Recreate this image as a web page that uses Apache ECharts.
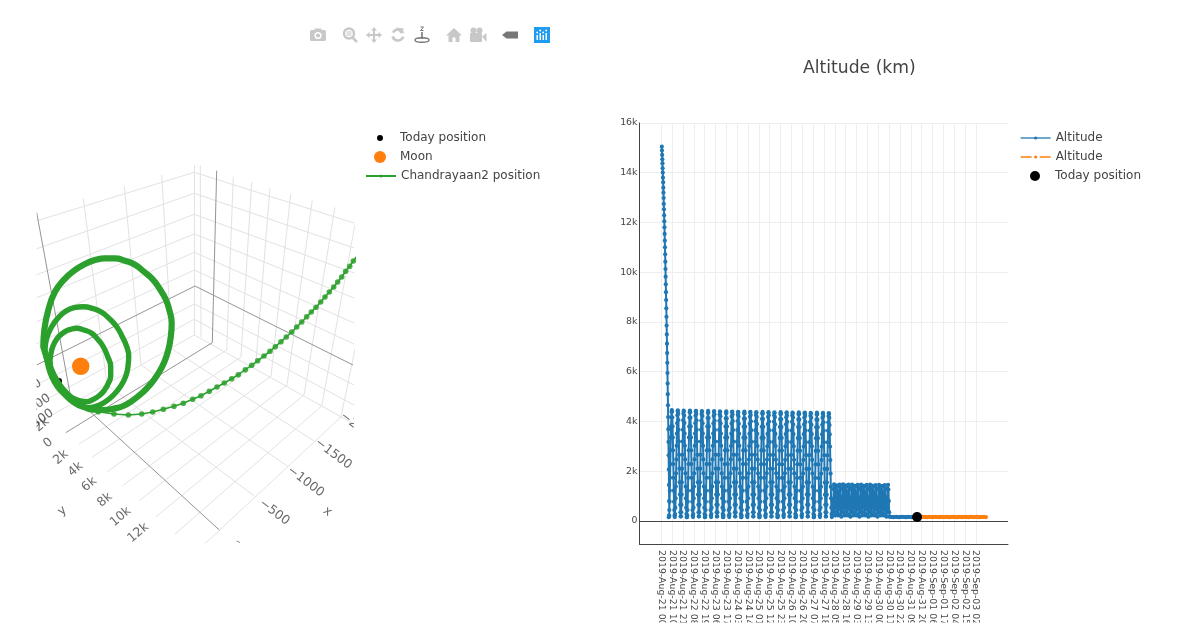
<!DOCTYPE html>
<html><head><meta charset="utf-8">
<script src="https://cdn.jsdelivr.net/npm/echarts@6/dist/echarts.min.js"></script>
<style>html,body{margin:0;padding:0;background:#fff}#c{width:1177px;height:639px}</style>
</head><body><div id="c"></div>
<script>
// ---------- right panel: altitude over time ----------
const tickLabels = ['2019-Aug-21 00','2019-Aug-21 10','2019-Aug-21 21','2019-Aug-22 08','2019-Aug-22 19','2019-Aug-23 06','2019-Aug-23 17','2019-Aug-24 03','2019-Aug-24 14','2019-Aug-25 01','2019-Aug-25 12','2019-Aug-25 23','2019-Aug-26 10','2019-Aug-26 20','2019-Aug-27 07','2019-Aug-27 18','2019-Aug-28 05','2019-Aug-28 16','2019-Aug-29 03','2019-Aug-29 13','2019-Aug-30 00','2019-Aug-30 11','2019-Aug-30 22','2019-Aug-31 09','2019-Aug-31 20','2019-Sep-01 06','2019-Sep-01 17','2019-Sep-02 04','2019-Sep-02 15','2019-Sep-03 02'];
const yTicks = [0,2000,4000,6000,8000,10000,12000,14000,16000];
const descentAltitudes = [15050,14890,14715,14540,14380,14180,14005,13800,13615,13400,13200,12985,12745,12530,12290,12050,11805,11540,11270,11000,10720,10425,10130,9820,9515,9200,8880,8550,8210,7860,7500,7130,6750,6360,5950,5530,5100,4650,4180,3690,3180,2640,2070,1450,800,200];
const highOrbitAltitudes = [
150,223,437,777,1220,1736,2290,2844,3360,3803,4170,4390,4460,4390,4170,3803,3360,2844,2290,1736,1220,777,437,223,
158,279,537,914,1385,1918,2476,3022,3518,3929,4250,4420,4445,4325,4060,3666,3195,2662,2104,1558,1062,651,351,182,
182,351,651,1062,1558,2104,2662,3195,3666,4055,4315,4435,4410,4240,3935,3518,3022,2476,1918,1385,914,537,279,158,
150,223,437,777,1220,1736,2290,2844,3360,3803,4155,4370,4440,4370,4155,3803,3360,2844,2290,1736,1220,777,437,223,
158,279,537,914,1385,1918,2476,3022,3518,3925,4235,4405,4430,4310,4045,3666,3195,2662,2104,1558,1062,651,351,182,
182,351,651,1062,1558,2104,2662,3195,3666,4040,4300,4420,4395,4225,3925,3518,3022,2476,1918,1385,914,537,279,158,
150,223,437,777,1220,1736,2290,2844,3360,3800,4140,4355,4425,4355,4140,3800,3360,2844,2290,1736,1220,777,437,223,
158,279,537,914,1385,1918,2476,3022,3518,3920,4220,4390,4415,4295,4030,3660,3195,2662,2104,1558,1062,651,351,182,
182,351,651,1062,1558,2104,2662,3195,3660,4030,4285,4405,4380,4210,3915,3518,3022,2476,1918,1385,914,537,279,158,
150,223,437,777,1220,1736,2290,2840,3355,3795,4125,4340,4410,4340,4125,3795,3355,2840,2290,1736,1220,777,437,223,
158,279,537,914,1385,1918,2476,3015,3510,3915,4205,4375,4400,4280,4015,3655,3190,2660,2104,1558,1062,651,351,182,
182,351,651,1062,1558,2104,2660,3190,3655,4020,4270,4390,4365,4195,3905,3510,3020,2476,1918,1385,914,537,279,158,
150,223,437,777,1220,1736,2290,2838,3350,3790,4115,4325,4400,4325,4115,3790,3350,2838,2290,1736,1220,777,437,223,
158,279,537,914,1385,1918,2470,3010,3505,3905,4190,4360,4390,4265,4005,3650,3185,2658,2104,1558,1062,651,351,182,
182,351,651,1062,1558,2104,2658,3185,3650,4005,4260,4375,4350,4185,3895,3505,3015,2470,1918,1385,914,537,279,158,
150,223,437,777,1220,1736,2285,2835,3345,3785,4105,4315,4385,4315,4105,3785,3345,2835,2285,1736,1220,777,437,223,
158,279,537,914,1385,1918,2465,3005,3500,3895,4180,4350,4375,4255,3995,3645,3180,2655,2100,1558,1062,651,351,182,
182,351,651,1062,1558,2100,2655,3180,3645,3995,4250,4365,4340,4175,3885,3500,3010,2465,1915,1385,914,537,279,158,
150,223,437,777,1220,1733,2282,2830,3340,3780,4095,4305,4375,4305,4095,3780,3340,2830,2282,1733,1220,777,437,223,
158,279,537,914,1383,1915,2460,3000,3495,3885,4170,4340,4365,4245,3985,3640,3175,2650,2098,1555,1062,651,351,182,
182,351,651,1062,1555,2098,2650,3175,3640,3985,4240,4355,4330,4165,3875,3495,3005,2460,1912,1383,914,537,279,158,
150,223,437,777,1218,1730,2278,2825,3335,3775,4085,4295,4365,4295,4085,3775,3335,2825,2278,1730,1218,777,437,223,
158,279,537,912,1380,1912,2455,2995,3490,3875,4160,4330,4355,4235,3975,3635,3170,2645,2095,1552,1060,651,351,182,
182,351,650,1060,1552,2095,2645,3170,3635,3975,4230,4345,4320,4155,3865,3490,3000,2455,1908,1380,912,537,279,158,
150,223,437,775,1215,1727,2274,2820,3330,3770,4075,4285,4355,4285,4075,3770,3330,2820,2274,1727,1215,775,437,223,
158,279,536,910,1378,1908,2450,2990,3485,3865,4150,4320,4345,4225,3965,3630,3165,2640,2092,1548,1058,650,351,182,
182,351,649,1058,1548,2092,2640,3165,3630,3965,4220,4335,4310,4145,3855,3485,2995,2450,1905,1378,910,536,279,158];
const lowOrbitAltitudes = [
200,360,820,1280,1470,1280,820,360,
220,570,1070,1420,1420,1070,570,220,
280,700,1190,1460,1350,950,450,190,
170,360,820,1280,1470,1280,820,360,
220,570,1070,1420,1420,1070,570,220,
280,700,1190,1460,1350,950,450,190,
170,360,815,1275,1465,1275,815,360,
220,570,1065,1415,1415,1065,570,220,
280,695,1185,1455,1345,945,450,190,
170,360,810,1270,1460,1270,810,360,
220,565,1060,1410,1410,1060,565,220,
280,695,1180,1450,1340,945,450,190,
170,355,810,1270,1460,1270,810,355,
220,565,1060,1410,1410,1060,565,220,
280,690,1175,1445,1335,940,445,190,
170,355,805,1265,1455,1265,805,355,
220,560,1055,1405,1405,1055,560,220,
280,690,1170,1440,1330,940,445,190,
170,355,805,1265,1455,1265,805,355,170];
const parkingAltitudes = [170,160,155,160,165,158,152,160,166,160,155,158,164,160,154,160,165,161];
const orangeAltitudes = [161,158,155,160,165,160,155,158,164,160,154,160,165,160,156,158,163,160,155,160,165,159,154,160,164,160,156,158,165,160,155,160,163,160,154,158,165,160,156,160,164,159,155,160,165,160,157];
const todayAltitude = [[23.58,161]];

// ---------- left panel: 3-D scene as seen on screen (scene units) ----------
const floorAndWallGrid = [
[[194.3,172.3],[36,221]],[[194.3,193.3],[36,249]],[[194.3,214.3],[36,275]],[[194.3,234],[36,298]],[[194.3,252.3],[36,322]],[[194.3,270],[36,344]],[[194.3,304],[36,385]],[[194.3,319.3],[36,405]],[[194.3,335],[36,424]],
[[194.3,172.3],[354,223]],[[194.3,193.3],[354,248]],[[194.3,214.3],[354,273]],[[194.3,234],[354,298]],[[194.3,252.3],[354,323]],[[194.3,270],[354,344]],[[194.3,304],[354,385]],[[194.3,319.3],[354,405]],[[194.3,335],[354,424]],
[[83.3,198.3],[107,385]],[[124.3,186],[141,365]],[[161.7,175],[172,349]],[[194.3,165],[194.3,335]],
[[200.3,165.7],[201,337]],[[233.3,176.7],[226.7,350]],[[251.7,182.3],[241,357]],[[270,187.7],[255.7,365]],[[290.7,194.3],[271,376]],[[312.3,200.7],[287,385]],[[335,207.3],[304,395]],[[356.7,215],[321.7,406]],[[381,223],[341,417]],
[[226.7,350],[79,444]],[[241,357],[92.3,457]],[[255.7,365],[107.3,471.7]],[[271,376],[122.7,485.7]],[[287,385],[139,500.7]],[[304,395],[156,516.7]],[[321.7,406],[175,534]],[[341,417],[195,553]],
[[107,385],[254.3,496]],[[141,365],[288.3,466.7]],[[172,349],[315,441.7]]];
const axisPlaneLines = [
[[195,286],[353,365]],[[195,286],[36.7,365]],[[212.3,342.7],[65.7,432.7]],[[216.7,170.7],[212.3,342.7]],[[36.7,212.7],[70,393.3]],[[70,393.3],[219.3,530]],[[236.5,541],[240,542.5]]];
const orbitLarge = [[43.3,346.7],[44.3,330],[48.3,310],[55,291.7],[64.3,279.3],[75,270],[85,264],[95,260],[105,258.3],[115,258.3],[125,260.7],[135,264.7],[144,271.7],[152.7,279.3],[159.3,288.3],[165.7,299.3],[169.3,310],[171.7,323.3],[170.7,337.3],[168.3,350],[164,362.7],[158.3,373.3],[150.7,384],[141.7,393.3],[132.3,400.7],[123.3,406],[113.3,408.7],[103.3,410],[93.3,409.7],[85,407.3],[75,401.7],[65,391.7],[57.3,381.7],[50,366.7],[43.3,346.7]];
const orbitMiddle = [[45,350],[46.7,338.3],[51.7,326.7],[58.3,317.7],[65,311.7],[74,307.7],[83.3,306.7],[93.3,308.7],[101.7,312.3],[110,319.3],[116.7,326.7],[122.3,336.7],[126.7,346.7],[128.7,356],[128.3,363.3],[126.7,373.3],[123.3,381.7],[117.3,390.7],[110,398.3],[102.7,403.3],[95,406.7],[88.3,407.7],[81.7,406.7],[73.3,402.3],[65,395],[57.3,386.7],[51.7,376.7],[47.7,364],[45,350]];
const orbitSmall = [[50,360],[51.7,350],[55,341.7],[59.3,336],[65,331.7],[70.7,329.3],[76.7,328.3],[84,330],[91.7,333.3],[98.3,340],[103.3,346.7],[107.7,356.7],[110.7,366.7],[110.7,376],[108.3,383.3],[105,389.3],[100,395],[93.3,399.3],[86.7,401.7],[80,401],[73.3,398.3],[66,392.7],[60,386.7],[55,380],[51.7,373.3],[50,360]];
const approachPath = [[98.3,411.7],[114,414],[128.3,415],[141.7,414],[152.7,412],[163.3,409.3],[174,406.3],[183.3,403.3],[192.7,399.3],[201,395.7],[209.3,391.3],[217,387],[224.3,383],[231.7,378.7],[238.3,374.7],[245.3,369.7],[251.7,365.3],[257.7,360.7],[264,356],[270,351.3],[275.3,346.7],[281,341.7],[286.3,337],[291.7,332],[296.7,327],[301.7,322],[306.7,316.7],[311.3,312],[316,307.3],[320.7,302],[325,297],[329.3,292],[333.7,287],[337.7,282],[341.7,277],[345.7,271.3],[349.7,266.3],[353.3,261],[357,256]];
const moonPoint = [[80.7,366.3]];
const todayPoint = [[59,381]];
const sceneLabels = [
['100',30.6,388.6,35],['200',39.6,403.6,35],['300',42.6,418.6,35],['−2k',38,428,40],
['0',48.3,443,40],['2k',61,457.3,40],['4k',75.7,469.3,40],['6k',89.3,484.3,40],['8k',105,500,40],['10k',120.7,516.7,40],['12k',138.3,532.7,40],['y',62.3,511,40],
['−2000',358.5,427.5,-37],['−1500',333.3,454,-37],['−1000',305.7,481.7,-37],['−500',274.3,512.3,-37],['x',327.3,511.7,-37]];

const xStart = {descent:0.055, high:0.70, low:15.79, parking:21.12, orange:23.58};
const xStep  = {descent:0.0154, high:0.02322, low:0.03456, parking:0.138, orange:0.138};
const along = (vals,k) => vals.map((v,i)=>[xStart[k]+i*xStep[k],v]);
const blueData = [...along(descentAltitudes,'descent'),...along(highOrbitAltitudes,'high'),...along(lowOrbitAltitudes,'low'),...along(parkingAltitudes,'parking')];
const orangeData = along(orangeAltitudes,'orange');

const FONT = 'DejaVu Sans', INK = '#444';
const BLUE='#1f77b4', ORANGE='#ff7f0e', GREEN='#2ca02c';
const GREY='#c8c8c8';
const legendItem = (name,left,top,h,ls) => Object.assign({data:[name],orient:'vertical',left,top,padding:0,itemWidth:30,itemHeight:h,selectedMode:false,textStyle:{fontFamily:FONT,fontSize:12,color:INK}},ls?{lineStyle:ls}:{});
const line3 = (name,data,w) => ({name,type:'line',xAxisIndex:0,yAxisIndex:0,data,smooth:0.5,symbol:'none',silent:true,z:4,lineStyle:{color:GREEN,width:w,cap:'round',join:'round'},itemStyle:{color:GREEN}});

const icons = [
 {type:'rect',shape:{x:310,y:30,width:16,height:11,r:1.5},style:{fill:GREY}},{type:'rect',shape:{x:314.5,y:28.5,width:7,height:3},style:{fill:GREY}},{type:'circle',shape:{cx:318,cy:35.5,r:3.6},style:{fill:'#fff'}},{type:'circle',shape:{cx:318,cy:35.5,r:2.1},style:{fill:GREY}},
 {type:'circle',shape:{cx:349,cy:33.5,r:5},style:{fill:'none',stroke:GREY,lineWidth:2.5}},{type:'rect',shape:{x:346.5,y:31,width:5,height:5},style:{fill:'#e2e2e2'}},{type:'line',shape:{x1:352.5,y1:37.5,x2:357,y2:42},style:{stroke:GREY,lineWidth:2.5}},
 {type:'line',shape:{x1:367,y1:35,x2:381,y2:35},style:{stroke:GREY,lineWidth:2}},{type:'line',shape:{x1:374,y1:28,x2:374,y2:42},style:{stroke:GREY,lineWidth:2}},
 {type:'polygon',shape:{points:[[374,27],[371,30.5],[377,30.5]]},style:{fill:GREY}},{type:'polygon',shape:{points:[[374,43],[371,39.5],[377,39.5]]},style:{fill:GREY}},{type:'polygon',shape:{points:[[366,35],[369.5,32],[369.5,38]]},style:{fill:GREY}},{type:'polygon',shape:{points:[[382,35],[378.5,32],[378.5,38]]},style:{fill:GREY}},
 {type:'arc',shape:{cx:398,cy:35,r:5.5,startAngle:0.3,endAngle:2.9},style:{fill:'none',stroke:GREY,lineWidth:2.6}},{type:'arc',shape:{cx:398,cy:35,r:5.5,startAngle:3.6,endAngle:5.9},style:{fill:'none',stroke:GREY,lineWidth:2.6}},{type:'polygon',shape:{points:[[396,27.5],[404,28.5],[401,34]]},style:{fill:GREY}},
 {type:'polyline',shape:{points:[[420.5,27],[423.5,27],[420.5,30.5],[423.5,30.5]]},style:{fill:'none',stroke:'#777',lineWidth:1}},{type:'line',shape:{x1:422,y1:32,x2:422,y2:39},style:{stroke:'#777',lineWidth:1.6}},{type:'ellipse',shape:{cx:422,cy:40,rx:7,ry:2.2},style:{fill:'none',stroke:'#777',lineWidth:1.4}},
 {type:'polygon',shape:{points:[[446,35.5],[454,28],[462,35.5]]},style:{fill:GREY}},{type:'rect',shape:{x:448.5,y:35,width:11,height:7},style:{fill:GREY}},{type:'rect',shape:{x:452.5,y:37.5,width:3,height:4.5},style:{fill:'#fff'}},
 {type:'circle',shape:{cx:473.5,cy:30.5,r:3},style:{fill:GREY}},{type:'circle',shape:{cx:479.5,cy:30.5,r:3},style:{fill:GREY}},{type:'rect',shape:{x:470,y:33,width:12,height:9,r:1},style:{fill:GREY}},{type:'polygon',shape:{points:[[482,36.5],[486.5,33],[486.5,42]]},style:{fill:GREY}},
 {type:'polygon',shape:{points:[[502,35],[506.5,31.5],[518,31.5],[518,38.5],[506.5,38.5]]},style:{fill:'#777'}},
 {type:'rect',shape:{x:534,y:27,width:16,height:16},style:{fill:'#1f9cf0'}},
 {type:'rect',shape:{x:536.5,y:35,width:1.5,height:5},style:{fill:'#fff'}},{type:'rect',shape:{x:539.5,y:33,width:1.5,height:7},style:{fill:'#fff'}},{type:'rect',shape:{x:542.5,y:35,width:1.5,height:5},style:{fill:'#fff'}},{type:'rect',shape:{x:545.5,y:33,width:1.5,height:7},style:{fill:'#fff'}},
 {type:'circle',shape:{cx:537.2,cy:32.5,r:.9},style:{fill:'#fff'}},{type:'circle',shape:{cx:540.2,cy:30.5,r:.9},style:{fill:'#fff'}},{type:'circle',shape:{cx:543.2,cy:32.5,r:.9},style:{fill:'#fff'}},{type:'circle',shape:{cx:546.2,cy:30.5,r:.9},style:{fill:'#fff'}}
];
const masks = [
 {type:'rect',shape:{x:0,y:150,width:36.5,height:400},style:{fill:'#fff'}},
 {type:'rect',shape:{x:354,y:400,width:30,height:50},style:{fill:'#fff'}},
 {type:'rect',shape:{x:640,y:622.5,width:370,height:16},style:{fill:'#fff'}}
];

const chart = echarts.init(document.getElementById('c'),null,{renderer:'canvas'});
chart.setOption({
 animation:false,
 backgroundColor:'#fff',
 textStyle:{fontFamily:FONT},
 title:{text:'Altitude (km)',left:803,top:60,padding:0,textStyle:{fontFamily:FONT,fontSize:17.2,fontWeight:'normal',color:INK}},
 legend:[
  legendItem('Today position',377,132,6),legendItem('Moon',374,151,12),legendItem('Chandrayaan2 position',365,170,4,{color:GREEN,width:2,type:'solid'}),
  legendItem('Altitude',1020,132,4,{color:BLUE,width:1.3,type:'solid'}),legendItem('Altitude ',1020,151,4,{color:ORANGE,width:1.3,type:[11,8]}),legendItem('Today position ',1030,170,10)],
 grid:[
  {left:37,top:160,width:317,height:383,show:false},
  {left:639.5,top:123,width:368.5,height:421,show:false}],
 xAxis:[
  {type:'value',gridIndex:0,min:37,max:354,show:false},
  {type:'value',gridIndex:1,min:-2,max:31.96,
   axisLine:{show:true,onZero:false,lineStyle:{color:INK,width:1}},
   axisTick:{show:false,customValues:tickLabels.map((_,i)=>i)},
   splitLine:{show:true,lineStyle:{color:'#eee',width:1}},
   axisLabel:{customValues:tickLabels.map((_,i)=>i),formatter:v=>tickLabels[v],rotate:-90,margin:6,fontFamily:FONT,fontSize:9.4,color:INK}}],
 yAxis:[
  {type:'value',gridIndex:0,min:160,max:543,inverse:true,show:false},
  {type:'value',gridIndex:1,min:-925,max:16000,
   axisLine:{show:true,onZero:false,lineStyle:{color:INK,width:1}},
   axisTick:{show:false,customValues:yTicks},
   splitLine:{show:true,lineStyle:{color:'#eee',width:1}},
   axisLabel:{customValues:yTicks,formatter:v=>v===0?'0':(v/1000)+'k',margin:2,fontFamily:FONT,fontSize:9.4,color:INK}}],
 series:[
  {type:'lines',coordinateSystem:'cartesian2d',xAxisIndex:0,yAxisIndex:0,silent:true,z:1,lineStyle:{color:'#e2e2e2',width:1,opacity:1},data:floorAndWallGrid.map(c=>({coords:c}))},
  {type:'lines',coordinateSystem:'cartesian2d',xAxisIndex:0,yAxisIndex:0,silent:true,z:2,lineStyle:{color:'#949494',width:1,opacity:1},data:axisPlaneLines.map(c=>({coords:c}))},
  {name:'Today position',type:'scatter',xAxisIndex:0,yAxisIndex:0,data:todayPoint,symbolSize:6,silent:true,z:3,itemStyle:{color:'#000',opacity:1}},
  line3('Orbit large',orbitLarge,6.2),line3('Orbit middle',orbitMiddle,5.4),line3('Orbit small',orbitSmall,5.4),
  {name:'Chandrayaan2 position',type:'line',xAxisIndex:0,yAxisIndex:0,data:approachPath,symbol:'circle',symbolSize:5.6,silent:true,z:3,lineStyle:{color:GREEN,width:1.6},itemStyle:{color:GREEN,opacity:.85}},
  {name:'Moon',type:'scatter',xAxisIndex:0,yAxisIndex:0,data:moonPoint,symbolSize:17.5,silent:true,z:5,itemStyle:{color:ORANGE,opacity:1}},
  {type:'scatter',xAxisIndex:0,yAxisIndex:0,clip:false,silent:true,symbolSize:0,z:6,
   data:sceneLabels.map(l=>({value:[l[1],l[2]],label:{show:true,position:'inside',formatter:l[0],rotate:l[3],fontFamily:FONT,fontSize:12.5,color:INK}}))},
  {name:'Altitude',type:'line',xAxisIndex:1,yAxisIndex:1,data:blueData,symbol:'circle',symbolSize:4.2,silent:true,z:4,lineStyle:{color:BLUE,width:2},itemStyle:{color:BLUE},
   markLine:{silent:true,symbol:'none',label:{show:false},lineStyle:{color:INK,width:1,type:'solid'},data:[{yAxis:0}]}},
  {name:'Altitude ',type:'line',xAxisIndex:1,yAxisIndex:1,data:orangeData,symbol:'circle',symbolSize:4.2,silent:true,z:4,lineStyle:{color:ORANGE,width:2,type:[11,8]},itemStyle:{color:ORANGE}},
  {name:'Today position ',type:'scatter',xAxisIndex:1,yAxisIndex:1,data:todayAltitude,symbolSize:10,silent:true,z:5,itemStyle:{color:'#000',opacity:1}}
 ],
 graphic:[...masks,...icons].map(g=>({...g,silent:true,z:100}))
});
</script></body></html>
